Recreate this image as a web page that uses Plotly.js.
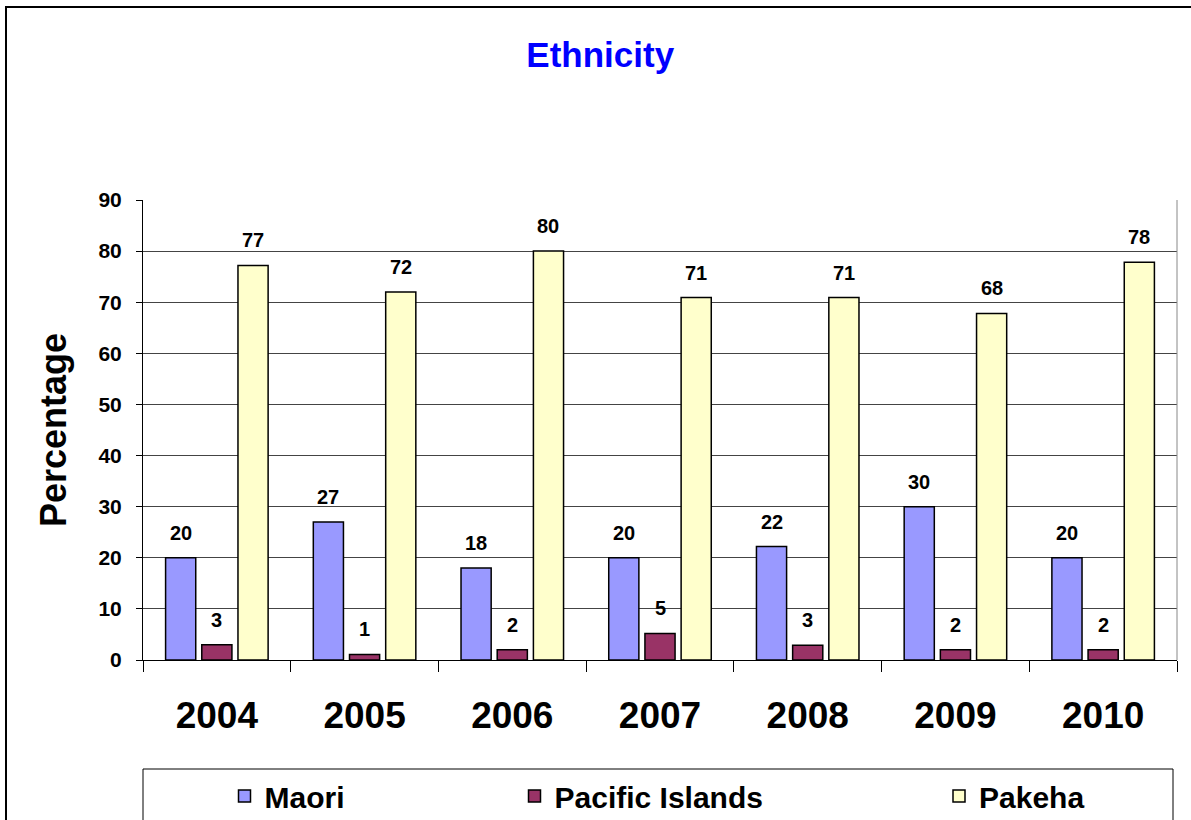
<!DOCTYPE html>
<html>
<head>
<meta charset="utf-8">
<script src="https://cdn.plot.ly/plotly-3.0.1.min.js"></script>
<style>html,body{margin:0;padding:0;background:#fff;}#chart{width:1191px;height:820px;}</style>
</head>
<body>
<div id="chart"></div>
<script>
const years = ["2004", "2005", "2006", "2007", "2008", "2009", "2010"];
const maori = [20, 27, 18, 20, 22.2, 30, 20];
const pacific = [3, 1.1, 2, 5.2, 2.9, 2, 2];
const pakeha = [77.2, 72, 80, 70.9, 70.9, 67.8, 77.8];
const seriesNames = ["Maori", "Pacific Islands", "Pakeha"];
const seriesColors = ["#9999FF", "#993366", "#FFFFCC"];

const FONT = "Liberation Sans, Arial, sans-serif";
const allSeries = [maori, pacific, pakeha];
const legendIds = ["legend", "legend2", "legend3"];

const traces = allSeries.map((vals, i) => ({
  type: "bar",
  name: seriesNames[i],
  x: years,
  y: vals,
  marker: {color: seriesColors[i], line: {color: "#000", width: 1.5}},
  legend: legendIds[i],
  hoverinfo: "x+y+name"
}));

// data labels as annotations above each bar
const slot = 0.245;
const annotations = [];
allSeries.forEach((vals, s) => {
  vals.forEach((v, k) => {
    annotations.push({
      x: k + (s - 1) * slot, y: v, xref: "x", yref: "y",
      text: String(Math.round(v)), showarrow: false,
      yanchor: "middle", yshift: 25,
      font: {family: FONT, size: 20, color: "#000", weight: 700}
    });
  });
});

const W = 1034, H = 460, L = 143, T = 200;
const px = v => (v - L) / W;
const py = v => (T + H - v) / H;

const legendBase = {
  xref: "container", yref: "container", yanchor: "middle", xanchor: "left",
  orientation: "h", bgcolor: "rgba(0,0,0,0)", borderwidth: 0,
  font: {family: FONT, size: 30, color: "#000", weight: 700}
};

const layout = {
  width: 1191, height: 820,
  margin: {l: L, r: 14, t: T, b: 160},
  paper_bgcolor: "#fff", plot_bgcolor: "#fff",
  barmode: "group", bargap: 0.265, bargroupgap: 0.167,
  title: {text: "Ethnicity", x: 0.504, xanchor: "center", y: 1 - 55 / 820, yanchor: "middle",
          font: {family: FONT, size: 35, color: "#0000FF", weight: 700}},
  xaxis: {
    type: "category", showgrid: false, showline: true, linecolor: "#000", linewidth: 1,
    ticks: "outside", tickson: "boundaries", ticklen: 11, tickcolor: "#000",
    ticklabelstandoff: 23,
    tickfont: {family: FONT, size: 37, color: "#000", weight: 700}
  },
  yaxis: {
    range: [0, 90], dtick: 10, showgrid: true, gridcolor: "#444", gridwidth: 1,
    showline: true, linecolor: "#000", linewidth: 1, zeroline: false,
    ticks: "outside", ticklen: 6, tickcolor: "#000", ticklabelstandoff: 10,
    tickfont: {family: FONT, size: 21, color: "#000", weight: 700},
    title: {text: "Percentage", standoff: 20, font: {family: FONT, size: 36, color: "#000", weight: 700}}
  },
  showlegend: true,
  legend: Object.assign({}, legendBase, {x: 224.5 / 1191, y: 1 - 796 / 820}),
  legend2: Object.assign({}, legendBase, {x: 514.5 / 1191, y: 1 - 796 / 820}),
  legend3: Object.assign({}, legendBase, {x: 939 / 1191, y: 1 - 796 / 820}),
  annotations: annotations,
  shapes: [
    {type: "rect", xref: "paper", yref: "paper", x0: px(6), x1: px(1196), y0: py(826), y1: py(7),
     line: {color: "#000", width: 2}, layer: "below"},
    {type: "rect", xref: "paper", yref: "paper", x0: 0, x1: px(1173), y0: py(826), y1: py(769),
     line: {color: "#000", width: 1}, layer: "below"},
    {type: "line", xref: "paper", yref: "paper", x0: 1, x1: 1, y0: 0, y1: 1,
     line: {color: "#888", width: 1}}
  ]
};

Plotly.newPlot("chart", traces, layout, {displayModeBar: false, responsive: false});
</script>
</body>
</html>
